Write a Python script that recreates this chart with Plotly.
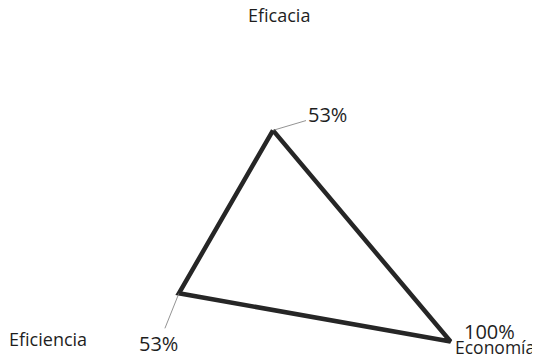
import numpy as np
import plotly.graph_objects as go

# radar: Eficacia / Economía / Eficiencia
categorias = ["Eficacia", "Economía", "Eficiencia"]
valores = [53, 100, 53]
etiquetas = [f"{v}%" for v in valores]

# radar geometry: first axis straight up, then clockwise every 120 deg
ang = np.radians(90 - 120 * np.arange(len(categorias)))
r = np.array(valores) / 100
x = r * np.cos(ang)
y = r * np.sin(ang)

fig = go.Figure()
fig.add_scatter(x=np.append(x, x[0]), y=np.append(y, y[0]), mode="lines",
                line=dict(color="#262626", width=4.5),
                hoverinfo="skip", showlegend=False)

# data labels, dragged away from the points like in the original (pixel offsets)
lbl_dx = [54, 39, -20]
lbl_dy = [-16, -10, 50]
leader = [True, False, True]
for i in range(len(categorias)):
    if leader[i]:
        fig.add_annotation(x=x[i], y=y[i], text=etiquetas[i], showarrow=True,
                           arrowhead=0, arrowwidth=0.8, arrowcolor="#777777",
                           ax=lbl_dx[i], ay=lbl_dy[i],
                           font=dict(size=20))
    else:
        fig.add_annotation(x=x[i], y=y[i], text=etiquetas[i], showarrow=False,
                           xshift=lbl_dx[i], yshift=-lbl_dy[i],
                           font=dict(size=20))

# category names just outside the 100% ring
cat_anchor = [("center", "bottom", 6, 5), ("left", "middle", 2, -5), ("right", "middle", -6, 3)]
cat_size = [18, 17.5, 18]
for i, name in enumerate(categorias):
    xa, ya, xs, ys = cat_anchor[i]
    fig.add_annotation(x=np.cos(ang[i]), y=np.sin(ang[i]), text=name, showarrow=False,
                       xanchor=xa, yanchor=ya, xshift=xs, yshift=ys,
                       font=dict(size=cat_size[i]))

# the page body keeps its 8px margin, so the figure is 8px smaller each way
fig.update_layout(
    width=532, height=352,
    margin=dict(l=0, r=0, t=0, b=0),
    paper_bgcolor="white", plot_bgcolor="white",
    font=dict(family="Open Sans", color="#1e1e1e"),
    xaxis=dict(range=[-1.2927, 1.3024], visible=False),
    yaxis=dict(range=[-0.5902, 1.1268], visible=False),
)

fig.write_html("out.html")
